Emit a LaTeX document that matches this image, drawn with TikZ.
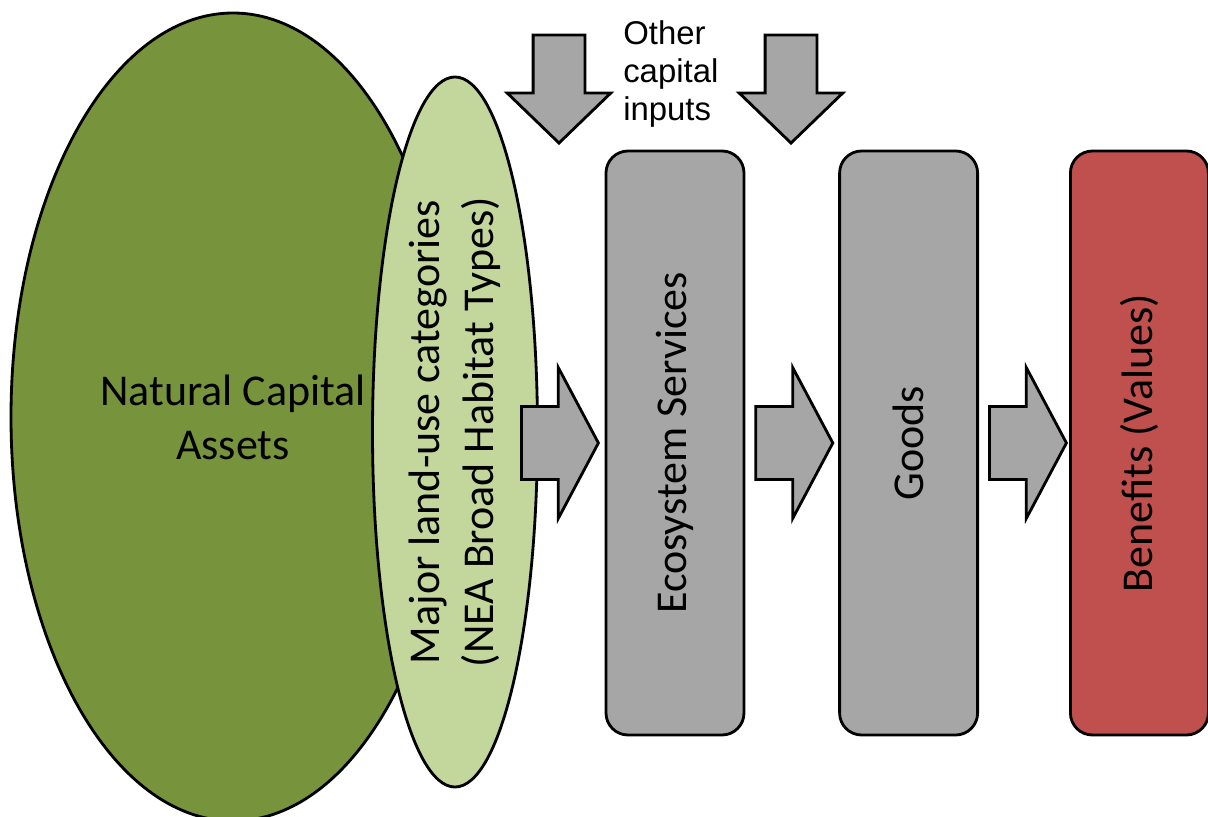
\documentclass[tikz,border=0pt]{standalone}
\usepackage{fontspec}
\setmainfont{Carlito}
\newfontfamily\arialfont{Liberation Sans}
\usetikzlibrary{shapes.geometric,shapes.arrows,calc}
\definecolor{assetgreen}{HTML}{77933C}
\definecolor{habitatgreen}{HTML}{C3D69B}
\definecolor{flowgray}{HTML}{A6A6A6}
\definecolor{valuered}{HTML}{C0504D}

\begin{document}
\begin{tikzpicture}[
  outline/.style={draw=black, line width=2pt},
  stage/.style={outline, rectangle, rounded corners=0.55cm, rotate=90, minimum width=14.6cm, minimum height=3.45cm, inner sep=0pt, fill=flowgray},
  fatarrow/.style={outline, single arrow, fill=flowgray, inner sep=0pt, text width=0pt, text height=0.875cm, text depth=0.875cm, minimum height=1.925cm, single arrow head extend=0.975cm, single arrow tip angle=124, anchor=tail},
  inarrow/.style={outline, single arrow, fill=flowgray, inner sep=0pt, rotate=-90, text width=0pt, text height=0.6125cm, text depth=0.6125cm, minimum height=2.7cm, single arrow head extend=0.65cm, single arrow tip angle=92, anchor=tip},
  font=\fontsize{31.3}{38.4}\selectfont
]
\useasboundingbox (0,0) rectangle (30.2,20.4);

\node[outline, ellipse, fill=assetgreen, minimum width=11.1cm, minimum height=20.2cm, inner sep=0pt, align=center] (assets) at (5.825,9.975) {Natural Capital\\Assets};
\node[outline, ellipse, fill=habitatgreen, rotate=90, minimum width=17.75cm, minimum height=4.125cm, inner sep=0pt, align=center] (habitat) at (11.375,9.6) {Major land-use categories\\(NEA Broad Habitat Types)};

\node[stage] (eco) at (16.875,9.325) {Ecosystem Services};
\node[stage] (goods) at ($(eco)+(5.84,0)$) {Goods};
\node[stage, fill=valuered] (benefits) at ($(goods)+(5.77,0)$) {Benefits (Values)};

\node[fatarrow] (toeco) at (13.0,9.325) {};
\node[fatarrow] (togoods) at ($(eco.south)+(0.225,0)$) {};
\node[fatarrow] (tobenefits) at ($(goods.south)+(0.225,0)$) {};

\node[inarrow] (ineco) at (13.975,16.775) {};
\node[inarrow] (ingoods) at (19.775,16.775) {};
\node[font=\arialfont\fontsize{23.4}{27}\selectfont, align=left, anchor=north west, inner sep=0pt] (other) at (15.575,19.9) {Other\\capital\\inputs};
\end{tikzpicture}
\end{document}
